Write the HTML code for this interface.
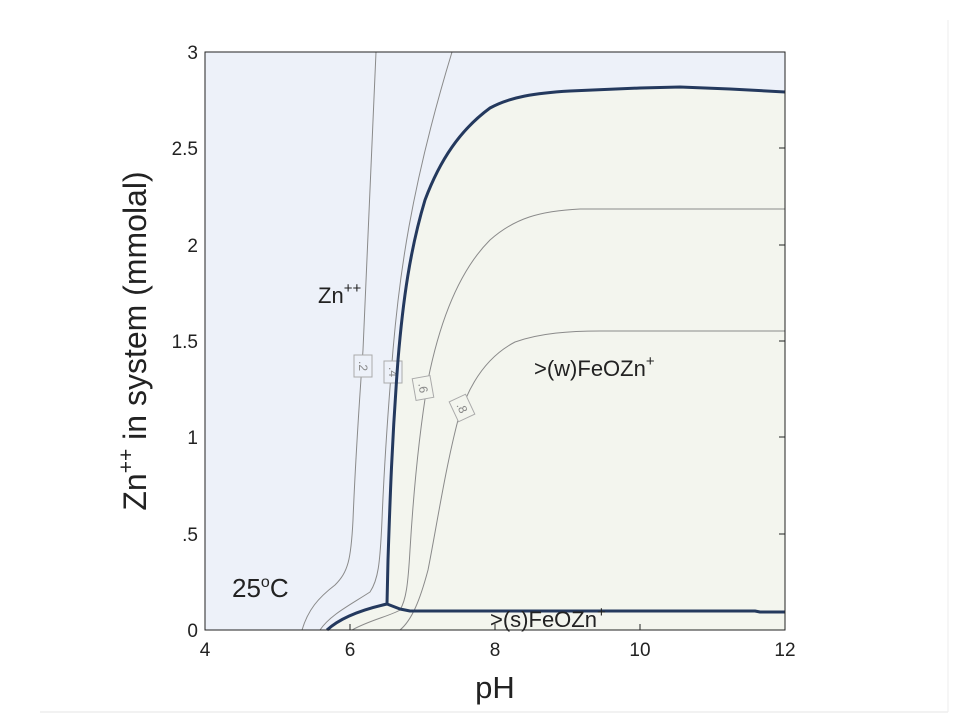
<!DOCTYPE html>
<html><head><meta charset="utf-8"><style>
body{margin:0;background:#fff;}
svg text{font-family:"Liberation Sans",Arial,sans-serif;}
</style></head><body>
<svg width="960" height="720" viewBox="0 0 960 720" xmlns="http://www.w3.org/2000/svg">
<rect width="960" height="720" fill="#fff"/>
<line x1="40" y1="712" x2="948" y2="712" stroke="#e6e6e6"/>
<line x1="948" y1="20" x2="948" y2="712" stroke="#eeeeee"/>
<rect x="205" y="52" width="580" height="578" fill="#edf1f9"/>
<path d="M327,630 C340,618 360,610 387,604 L388,560 C390,500 392,440 398,360 C403,300 410,250 425,200 C440,160 460,130 490,108 C510,97 535,93 570,91 L640,88 L680,87 L730,89 L785,92 L785,630 Z" fill="#f3f5ee"/>
<g fill="none" stroke="#8a8a8a" stroke-width="1">
<path d="M302,630 C308,610 318,598 335,585 C348,572 351,560 353,520 C355,470 358,420 363,350 C367,270 371,180 376,52"/>
<path d="M320,630 C330,615 350,605 370,592 C378,580 380,565 382,520 C384,470 388,410 393,350 C399,280 410,190 452,52"/>
<path d="M352,630 C370,620 390,616 400,610 C406,600 408,585 410,550 C413,500 418,440 428,380 C440,320 460,270 490,240 C515,218 540,211 580,209 L785,209"/>
<path d="M400,630 C412,620 420,600 428,570 C436,530 445,470 458,420 C470,380 490,355 515,342 C540,333 570,331 600,331 L785,331"/>
</g>
<g font-size="12" fill="#888">
<g transform="translate(363,366) rotate(90)"><rect x="-11" y="-9" width="22" height="18" fill="#edf1f9" stroke="#aaa"/><text x="0" y="4" text-anchor="middle">.2</text></g>
<g transform="translate(393,372) rotate(90)"><rect x="-11" y="-9" width="22" height="18" fill="#edf1f9" stroke="#aaa"/><text x="0" y="4" text-anchor="middle">.4</text></g>
<g transform="translate(423,388) rotate(80)"><rect x="-11" y="-9" width="22" height="18" fill="#f3f5ee" stroke="#aaa"/><text x="0" y="4" text-anchor="middle">.6</text></g>
<g transform="translate(462,408) rotate(65)"><rect x="-11" y="-9" width="22" height="18" fill="#f3f5ee" stroke="#aaa"/><text x="0" y="4" text-anchor="middle">.8</text></g>
</g>
<g fill="none" stroke="#24395e" stroke-width="3" stroke-linejoin="round">
<path d="M327,630 C340,618 360,610 387,604 L388,560 C390,500 392,440 398,360 C403,300 410,250 425,200 C440,160 460,130 490,108 C510,97 535,93 570,91 L640,88 L680,87 L730,89 L785,92"/>
<path d="M387,604 L400,609 L410,611 L755,611 L760,612 L785,612"/>
</g>
<rect x="205" y="52" width="580" height="578" fill="none" stroke="#222" stroke-width="1"/>
<g stroke="#222" stroke-width="1">
<line x1="205" y1="630" x2="205" y2="624"/><line x1="350" y1="630" x2="350" y2="624"/><line x1="495" y1="630" x2="495" y2="624"/><line x1="640" y1="630" x2="640" y2="624"/><line x1="785" y1="630" x2="785" y2="624"/>
<line x1="785" y1="52" x2="779" y2="52"/><line x1="785" y1="148" x2="779" y2="148"/><line x1="785" y1="245" x2="779" y2="245"/><line x1="785" y1="341" x2="779" y2="341"/><line x1="785" y1="437" x2="779" y2="437"/><line x1="785" y1="534" x2="779" y2="534"/>
</g>
<g font-size="19" fill="#222" text-anchor="end">
<text x="198" y="59">3</text><text x="198" y="155">2.5</text><text x="198" y="252">2</text><text x="198" y="348">1.5</text><text x="198" y="444">1</text><text x="198" y="541">.5</text><text x="198" y="637">0</text>
</g>
<g font-size="19" fill="#222" text-anchor="middle">
<text x="205" y="656">4</text><text x="350" y="656">6</text><text x="495" y="656">8</text><text x="640" y="656">10</text><text x="785" y="656">12</text>
</g>
<text x="495" y="698" font-size="31" fill="#222" text-anchor="middle">pH</text>
<text transform="translate(146,341) rotate(-90)" font-size="32" fill="#222" text-anchor="middle">Zn<tspan font-size="21" dy="-13">++</tspan><tspan dy="13"> in system (mmolal)</tspan></text>
<text x="318" y="303" font-size="22" fill="#222">Zn<tspan font-size="15" dy="-10">++</tspan></text>
<text x="534" y="376" font-size="22" fill="#222">&gt;(w)FeOZn<tspan font-size="15" dy="-10">+</tspan></text>
<text x="490" y="627" font-size="22" fill="#222">&gt;(s)FeOZn<tspan font-size="15" dy="-10">+</tspan></text>
<text x="232" y="597" font-size="26" fill="#222">25<tspan font-size="16" dy="-10">o</tspan><tspan dy="10">C</tspan></text>
</svg>
</body></html>
